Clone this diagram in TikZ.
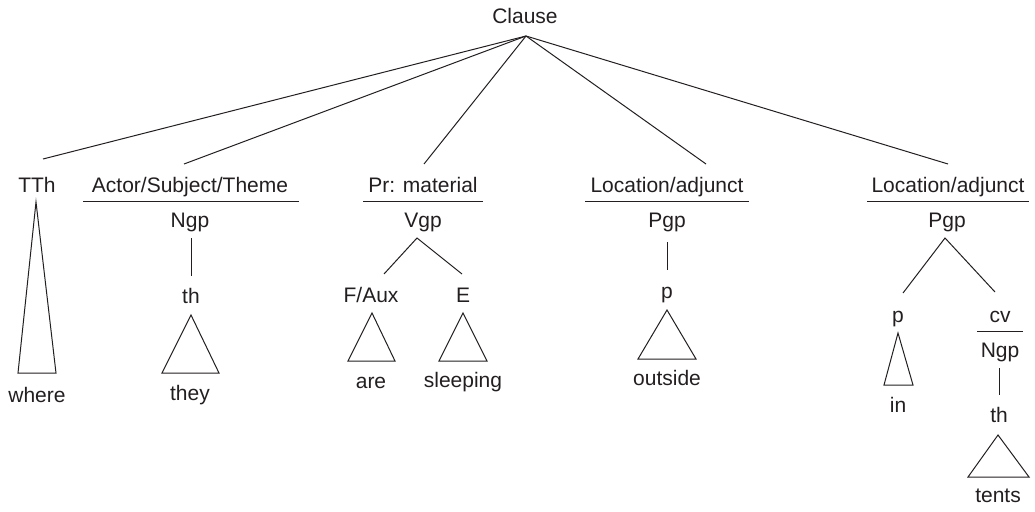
\documentclass[tikz,border=0pt]{standalone}
\usepackage{fontspec}
\setmainfont{Liberation Sans}
\definecolor{ink}{HTML}{231F20}
\begin{document}
\begin{tikzpicture}[x=1pt,y=1pt,
  lab/.style={anchor=base,inner sep=0pt,outer sep=0pt,text=ink,font=\fontsize{21}{25}\selectfont},
  edge/.style={draw=ink,line width=1pt},
  tri/.style={draw=ink,line width=1pt,line join=miter}]
\useasboundingbox (0,0) rectangle (1035,-511);
% root
\node[lab] (clause) at (525,-24) {Clause};
\coordinate (top) at (526,-36);
% first-level labels
\node[lab] (tth) at (37,-192) {TTh};
\node[lab] (actor) at (190,-192) {Actor/Subject/Theme};
\node[lab] (pr) at (423,-192) {Pr: material};
\node[lab] (loc1) at (667,-192) {Location/adjunct};
\node[lab] (loc2) at (948,-192) {Location/adjunct};
\coordinate (tthT) at (43,-159);
\coordinate (actorT) at (184,-164);
\coordinate (prT) at (424,-164);
\coordinate (loc1T) at (706,-164);
\coordinate (loc2T) at (948,-164);
\draw[edge] (top) -- (tthT);
\draw[edge] (top) -- (actorT);
\draw[edge] (top) -- (prT);
\draw[edge] (top) -- (loc1T);
\draw[edge] (top) -- (loc2T);
% rules under function labels
\coordinate (actorL) at (83,-201); \coordinate (actorR) at (299,-201);
\coordinate (prL) at (363,-201); \coordinate (prR) at (483,-201);
\coordinate (loc1L) at (585,-201); \coordinate (loc1R) at (749,-201);
\coordinate (loc2L) at (867,-201); \coordinate (loc2R) at (1029,-201);
\draw[edge] (actorL) -- (actorR);
\draw[edge] (prL) -- (prR);
\draw[edge] (loc1L) -- (loc1R);
\draw[edge] (loc2L) -- (loc2R);
% TTh
\coordinate (t1a) at (36,-202); \coordinate (t1l) at (18,-373); \coordinate (t1r) at (56,-373);
\draw[tri] (t1a) -- (t1l) -- (t1r) -- cycle;
\node[lab] (where) at (37,-402) {where};
% Actor
\node[lab] (ngp1) at (190,-227) {Ngp};
\coordinate (n1a) at (191,-238); \coordinate (n1b) at (191,-276);
\draw[edge] (n1a) -- (n1b);
\node[lab] (th1) at (191,-303) {th};
\coordinate (t2a) at (191,-315); \coordinate (t2l) at (162,-373); \coordinate (t2r) at (219,-373);
\draw[tri] (t2a) -- (t2l) -- (t2r) -- cycle;
\node[lab] (they) at (190,-400) {they};
% Pr: material
\node[lab] (vgp) at (423,-227) {Vgp};
\coordinate (va) at (417,-238); \coordinate (vl) at (384,-274); \coordinate (vr) at (462,-274);
\draw[edge] (vl) -- (va) -- (vr);
\node[lab] (faux) at (371,-302) {F/Aux};
\node[lab] (e) at (463,-302) {E};
\coordinate (t3a) at (372,-313); \coordinate (t3l) at (348,-361); \coordinate (t3r) at (395,-361);
\draw[tri] (t3a) -- (t3l) -- (t3r) -- cycle;
\coordinate (t4a) at (463,-313); \coordinate (t4l) at (439,-361); \coordinate (t4r) at (487,-361);
\draw[tri] (t4a) -- (t4l) -- (t4r) -- cycle;
\node[lab] (are) at (371,-388) {are};
\node[lab] (sleeping) at (463,-387) {sleeping};
% Location 1
\node[lab] (pgp1) at (667,-227) {Pgp};
\coordinate (p1a) at (667,-242); \coordinate (p1b) at (667,-270);
\draw[edge] (p1a) -- (p1b);
\node[lab] (pp1) at (667,-298) {p};
\coordinate (t5a) at (667,-310); \coordinate (t5l) at (638,-359); \coordinate (t5r) at (696,-359);
\draw[tri] (t5a) -- (t5l) -- (t5r) -- cycle;
\node[lab] (outside) at (667,-385) {outside};
% Location 2
\node[lab] (pgp2) at (947,-227) {Pgp};
\coordinate (qa) at (945,-238); \coordinate (ql) at (903,-293); \coordinate (qr) at (995,-292);
\draw[edge] (ql) -- (qa) -- (qr);
\node[lab] (pp2) at (898,-322) {p};
\node[lab] (cv) at (1000,-322) {cv};
\coordinate (cvL) at (977,-331); \coordinate (cvR) at (1023,-331);
\draw[edge] (cvL) -- (cvR);
\node[lab] (ngp2) at (1000,-357) {Ngp};
\coordinate (n2a) at (999,-368); \coordinate (n2b) at (999,-395);
\draw[edge] (n2a) -- (n2b);
\node[lab] (th2) at (999,-422) {th};
\coordinate (t6a) at (898,-333); \coordinate (t6l) at (884,-385); \coordinate (t6r) at (913,-385);
\draw[tri] (t6a) -- (t6l) -- (t6r) -- cycle;
\node[lab] (in) at (898,-412) {in};
\coordinate (t7a) at (998,-435); \coordinate (t7l) at (968,-477); \coordinate (t7r) at (1029,-477);
\draw[tri] (t7a) -- (t7l) -- (t7r) -- cycle;
\node[lab] (tents) at (998,-502) {tents};
\end{tikzpicture}
\end{document}
